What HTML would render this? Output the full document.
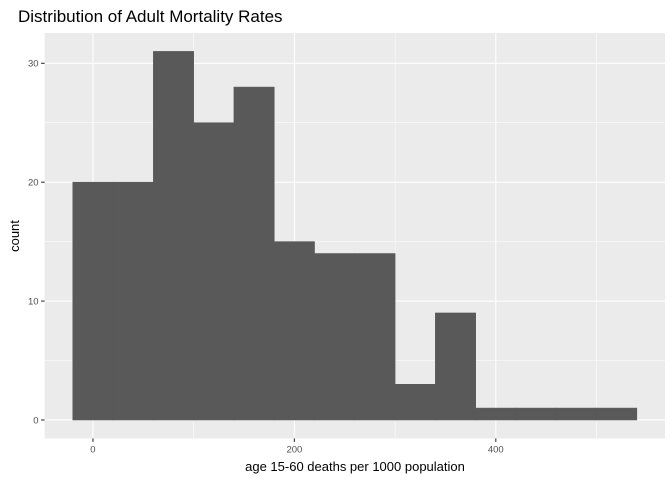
<!DOCTYPE html>
<html><head><meta charset="utf-8"><style>
body{margin:0;background:#fff;}
svg{display:block;font-family:"Liberation Sans",sans-serif;}
</style></head><body>
<svg id="chart" width="672" height="480">
<text x="18" y="22" font-size="17" fill="#000">Distribution of Adult Mortality Rates</text>
<rect x="44.6" y="33" width="620.4" height="405.4" fill="#ebebeb"/>
<g id="grid"></g>
<g id="bars"></g>
<g id="axes"></g>
<text x="355" y="471" font-size="13" text-anchor="middle" fill="#000">age 15-60 deaths per 1000 population</text>
<text transform="translate(19,236) rotate(-90)" font-size="13" text-anchor="middle" fill="#000">count</text>
</svg>
<script>
const binStarts=[-20,20,60,100,140,180,220,260,300,340,380,420,460,500];
const counts=[20,20,31,25,28,15,14,14,3,9,1,1,1,1];
const binWidth=40;
const xTicks=[0,200,400];
const xMinor=[100,300,500];
const yTicks=[0,10,20,30];
const yMinor=[5,15,25];
const PL=44.6,PR=665,PT=33,PB=438.4;
const xMin=-48,xMax=568,yMin=-1.55,yMax=32.55;
const xs=v=>PL+(v-xMin)/(xMax-xMin)*(PR-PL);
const ys=v=>PB-(v-yMin)/(yMax-yMin)*(PB-PT);
const NS="http://www.w3.org/2000/svg";
function mk(tag,attrs,parent){const e=document.createElementNS(NS,tag);for(const k in attrs)e.setAttribute(k,attrs[k]);parent.appendChild(e);return e;}
const grid=document.getElementById('grid'),bars=document.getElementById('bars'),axes=document.getElementById('axes');
xMinor.forEach(v=>{const l=mk('line',{x1:xs(v),x2:xs(v),y1:PT,y2:PB,stroke:'#fff','stroke-width':0.55},grid);

});
yMinor.forEach(v=>{const l=mk('line',{x1:PL,x2:PR,y1:ys(v),y2:ys(v),stroke:'#fff','stroke-width':0.55},grid);

});
xTicks.forEach(v=>{const l=mk('line',{x1:xs(v),x2:xs(v),y1:PT,y2:PB,stroke:'#fff','stroke-width':1.1},grid);


const t=mk('line',{x1:xs(v),x2:xs(v),y1:PB,y2:PB+3.5,stroke:'#333','stroke-width':1.1},axes);


const tx=mk('text',{x:xs(v),y:PB+14,'font-size':9.5,'text-anchor':'middle',fill:'#4d4d4d'},axes);tx.textContent=v;

});
yTicks.forEach(v=>{const l=mk('line',{x1:PL,x2:PR,y1:ys(v),y2:ys(v),stroke:'#fff','stroke-width':1.1},grid);


const t=mk('line',{x1:PL-3.5,x2:PL,y1:ys(v),y2:ys(v),stroke:'#333','stroke-width':1.1},axes);


const tx=mk('text',{x:PL-6,y:ys(v)+3.3,'font-size':9.5,'text-anchor':'end',fill:'#4d4d4d'},axes);tx.textContent=v;

});
binStarts.forEach((b,i)=>{const x0=xs(b),x1=xs(b+binWidth);
const r=mk('rect',{x:x0,y:ys(counts[i]),width:x1-x0,height:ys(0)-ys(counts[i]),fill:'#595959',stroke:'#595959','stroke-width':0.6},bars);

});
</script>
</body></html>
